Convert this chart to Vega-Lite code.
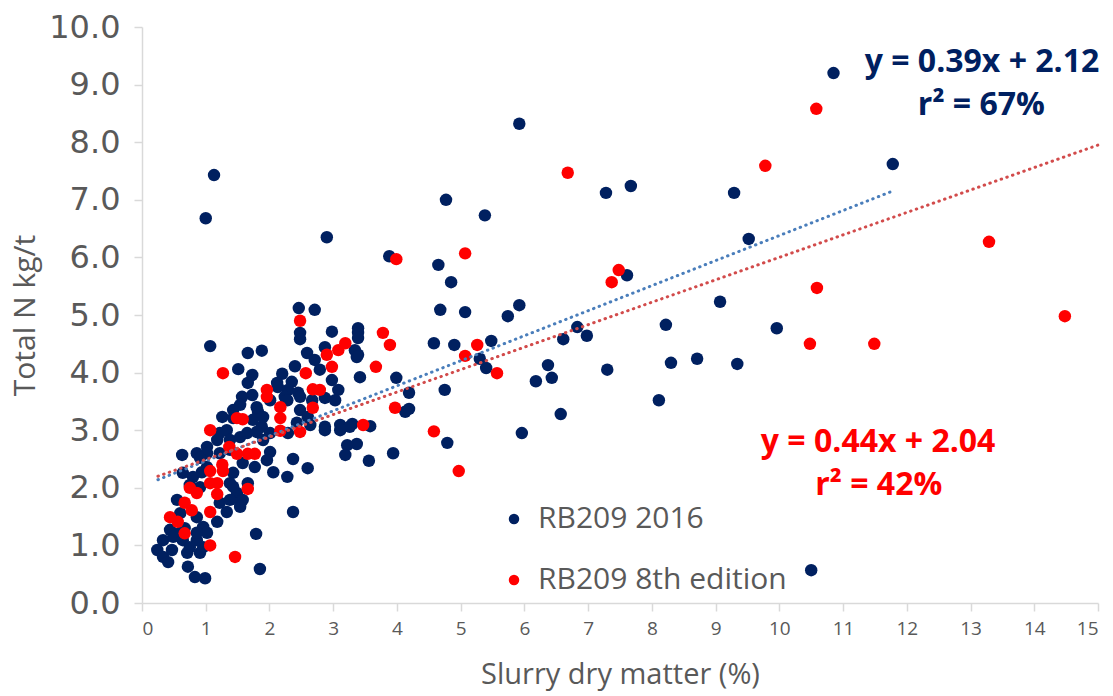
{
  "$schema": "https://vega.github.io/schema/vega-lite/v6.json",
  "width": 956,
  "height": 576,
  "autosize": "none",
  "padding": {"left": 142, "top": 27, "right": 15, "bottom": 93},
  "background": "white",
  "config": {"view": {"stroke": null}},
  "datasets": {
    "points": [
      {"series": "RB209 2016", "dm": 5.92, "n": 8.32},
      {"series": "RB209 2016", "dm": 7.28, "n": 7.12},
      {"series": "RB209 2016", "dm": 7.67, "n": 7.24},
      {"series": "RB209 2016", "dm": 9.29, "n": 7.12},
      {"series": "RB209 2016", "dm": 4.77, "n": 7.0},
      {"series": "RB209 2016", "dm": 5.38, "n": 6.73},
      {"series": "RB209 2016", "dm": 9.52, "n": 6.32},
      {"series": "RB209 2016", "dm": 3.88, "n": 6.02},
      {"series": "RB209 2016", "dm": 4.65, "n": 5.87},
      {"series": "RB209 2016", "dm": 4.85, "n": 5.57},
      {"series": "RB209 2016", "dm": 7.61, "n": 5.69},
      {"series": "RB209 2016", "dm": 4.68, "n": 5.09},
      {"series": "RB209 2016", "dm": 5.07, "n": 5.05},
      {"series": "RB209 2016", "dm": 5.92, "n": 5.17},
      {"series": "RB209 2016", "dm": 5.74, "n": 4.98},
      {"series": "RB209 2016", "dm": 9.07, "n": 5.23},
      {"series": "RB209 2016", "dm": 8.22, "n": 4.83},
      {"series": "RB209 2016", "dm": 6.83, "n": 4.79},
      {"series": "RB209 2016", "dm": 6.98, "n": 4.64},
      {"series": "RB209 2016", "dm": 6.61, "n": 4.58},
      {"series": "RB209 2016", "dm": 4.58, "n": 4.51},
      {"series": "RB209 2016", "dm": 4.9, "n": 4.48},
      {"series": "RB209 2016", "dm": 5.48, "n": 4.55},
      {"series": "RB209 2016", "dm": 5.3, "n": 4.24},
      {"series": "RB209 2016", "dm": 5.4, "n": 4.08},
      {"series": "RB209 2016", "dm": 8.3, "n": 4.17},
      {"series": "RB209 2016", "dm": 8.71, "n": 4.24},
      {"series": "RB209 2016", "dm": 9.34, "n": 4.15},
      {"series": "RB209 2016", "dm": 7.3, "n": 4.05},
      {"series": "RB209 2016", "dm": 6.37, "n": 4.13},
      {"series": "RB209 2016", "dm": 6.43, "n": 3.91},
      {"series": "RB209 2016", "dm": 6.18, "n": 3.85},
      {"series": "RB209 2016", "dm": 8.11, "n": 3.52},
      {"series": "RB209 2016", "dm": 6.57, "n": 3.28},
      {"series": "RB209 2016", "dm": 3.99, "n": 3.91},
      {"series": "RB209 2016", "dm": 4.19, "n": 3.65},
      {"series": "RB209 2016", "dm": 4.19, "n": 3.37},
      {"series": "RB209 2016", "dm": 4.13, "n": 3.32},
      {"series": "RB209 2016", "dm": 4.75, "n": 3.7},
      {"series": "RB209 2016", "dm": 4.79, "n": 2.78},
      {"series": "RB209 2016", "dm": 3.94, "n": 2.6},
      {"series": "RB209 2016", "dm": 5.96, "n": 2.95},
      {"series": "RB209 2016", "dm": 10.85, "n": 9.2},
      {"series": "RB209 2016", "dm": 11.78, "n": 7.62},
      {"series": "RB209 2016", "dm": 9.96, "n": 4.77},
      {"series": "RB209 2016", "dm": 10.5, "n": 0.57},
      {"series": "RB209 2016", "dm": 1.13, "n": 7.43},
      {"series": "RB209 2016", "dm": 1.0, "n": 6.68},
      {"series": "RB209 2016", "dm": 2.9, "n": 6.35},
      {"series": "RB209 2016", "dm": 2.46, "n": 5.12},
      {"series": "RB209 2016", "dm": 2.71, "n": 5.09},
      {"series": "RB209 2016", "dm": 2.48, "n": 4.69},
      {"series": "RB209 2016", "dm": 2.48, "n": 4.58},
      {"series": "RB209 2016", "dm": 2.98, "n": 4.71},
      {"series": "RB209 2016", "dm": 3.39, "n": 4.77},
      {"series": "RB209 2016", "dm": 3.39, "n": 4.69},
      {"series": "RB209 2016", "dm": 3.39, "n": 4.6},
      {"series": "RB209 2016", "dm": 3.39, "n": 4.31},
      {"series": "RB209 2016", "dm": 2.87, "n": 4.44},
      {"series": "RB209 2016", "dm": 2.59, "n": 4.34},
      {"series": "RB209 2016", "dm": 2.71, "n": 4.22},
      {"series": "RB209 2016", "dm": 2.79, "n": 4.05},
      {"series": "RB209 2016", "dm": 2.4, "n": 4.11},
      {"series": "RB209 2016", "dm": 3.34, "n": 4.39},
      {"series": "RB209 2016", "dm": 3.37, "n": 4.27},
      {"series": "RB209 2016", "dm": 3.42, "n": 3.92},
      {"series": "RB209 2016", "dm": 2.98, "n": 3.87},
      {"series": "RB209 2016", "dm": 2.2, "n": 3.98},
      {"series": "RB209 2016", "dm": 2.12, "n": 3.82},
      {"series": "RB209 2016", "dm": 2.35, "n": 3.84},
      {"series": "RB209 2016", "dm": 2.13, "n": 3.75},
      {"series": "RB209 2016", "dm": 2.29, "n": 3.7},
      {"series": "RB209 2016", "dm": 2.45, "n": 3.65},
      {"series": "RB209 2016", "dm": 3.08, "n": 3.7},
      {"series": "RB209 2016", "dm": 3.03, "n": 3.52},
      {"series": "RB209 2016", "dm": 2.87, "n": 3.56},
      {"series": "RB209 2016", "dm": 2.67, "n": 3.52},
      {"series": "RB209 2016", "dm": 2.48, "n": 3.58},
      {"series": "RB209 2016", "dm": 2.24, "n": 3.58},
      {"series": "RB209 2016", "dm": 2.48, "n": 3.35},
      {"series": "RB209 2016", "dm": 2.6, "n": 3.23},
      {"series": "RB209 2016", "dm": 2.43, "n": 3.13},
      {"series": "RB209 2016", "dm": 2.64, "n": 3.09},
      {"series": "RB209 2016", "dm": 2.87, "n": 3.06},
      {"series": "RB209 2016", "dm": 3.11, "n": 3.09},
      {"series": "RB209 2016", "dm": 3.3, "n": 3.11},
      {"series": "RB209 2016", "dm": 2.87, "n": 3.0},
      {"series": "RB209 2016", "dm": 3.11, "n": 3.0},
      {"series": "RB209 2016", "dm": 3.26, "n": 3.06},
      {"series": "RB209 2016", "dm": 3.58, "n": 3.07},
      {"series": "RB209 2016", "dm": 2.29, "n": 2.95},
      {"series": "RB209 2016", "dm": 3.22, "n": 2.74},
      {"series": "RB209 2016", "dm": 3.37, "n": 2.76},
      {"series": "RB209 2016", "dm": 3.19, "n": 2.57},
      {"series": "RB209 2016", "dm": 3.56, "n": 2.47},
      {"series": "RB209 2016", "dm": 2.01, "n": 2.62},
      {"series": "RB209 2016", "dm": 2.37, "n": 2.5},
      {"series": "RB209 2016", "dm": 2.6, "n": 2.34},
      {"series": "RB209 2016", "dm": 1.77, "n": 2.36},
      {"series": "RB209 2016", "dm": 2.06, "n": 2.27},
      {"series": "RB209 2016", "dm": 2.28, "n": 2.19},
      {"series": "RB209 2016", "dm": 2.37, "n": 1.58},
      {"series": "RB209 2016", "dm": 1.79, "n": 1.2},
      {"series": "RB209 2016", "dm": 1.85, "n": 0.59},
      {"series": "RB209 2016", "dm": 1.07, "n": 4.46},
      {"series": "RB209 2016", "dm": 1.66, "n": 4.34},
      {"series": "RB209 2016", "dm": 1.88, "n": 4.38},
      {"series": "RB209 2016", "dm": 1.51, "n": 4.06},
      {"series": "RB209 2016", "dm": 1.73, "n": 3.96},
      {"series": "RB209 2016", "dm": 1.66, "n": 3.82},
      {"series": "RB209 2016", "dm": 1.57, "n": 3.58},
      {"series": "RB209 2016", "dm": 1.73, "n": 3.61},
      {"series": "RB209 2016", "dm": 1.54, "n": 3.44},
      {"series": "RB209 2016", "dm": 1.43, "n": 3.35},
      {"series": "RB209 2016", "dm": 1.26, "n": 3.23},
      {"series": "RB209 2016", "dm": 1.43, "n": 3.21},
      {"series": "RB209 2016", "dm": 1.82, "n": 3.32},
      {"series": "RB209 2016", "dm": 1.33, "n": 3.0},
      {"series": "RB209 2016", "dm": 1.74, "n": 3.18},
      {"series": "RB209 2016", "dm": 1.88, "n": 3.06},
      {"series": "RB209 2016", "dm": 1.8, "n": 3.4},
      {"series": "RB209 2016", "dm": 2.01, "n": 3.52},
      {"series": "RB209 2016", "dm": 1.9, "n": 3.23},
      {"series": "RB209 2016", "dm": 2.28, "n": 3.52},
      {"series": "RB209 2016", "dm": 2.01, "n": 2.95},
      {"series": "RB209 2016", "dm": 0.63, "n": 2.57},
      {"series": "RB209 2016", "dm": 0.86, "n": 2.6},
      {"series": "RB209 2016", "dm": 1.02, "n": 2.71},
      {"series": "RB209 2016", "dm": 1.18, "n": 2.83},
      {"series": "RB209 2016", "dm": 1.22, "n": 2.95},
      {"series": "RB209 2016", "dm": 1.38, "n": 2.83},
      {"series": "RB209 2016", "dm": 1.54, "n": 2.88},
      {"series": "RB209 2016", "dm": 1.65, "n": 2.95},
      {"series": "RB209 2016", "dm": 1.8, "n": 2.97},
      {"series": "RB209 2016", "dm": 1.38, "n": 2.66},
      {"series": "RB209 2016", "dm": 1.9, "n": 2.83},
      {"series": "RB209 2016", "dm": 1.96, "n": 2.48},
      {"series": "RB209 2016", "dm": 1.58, "n": 2.43},
      {"series": "RB209 2016", "dm": 1.43, "n": 2.26},
      {"series": "RB209 2016", "dm": 0.64, "n": 2.26},
      {"series": "RB209 2016", "dm": 0.8, "n": 2.19},
      {"series": "RB209 2016", "dm": 0.94, "n": 2.27},
      {"series": "RB209 2016", "dm": 1.02, "n": 2.36},
      {"series": "RB209 2016", "dm": 1.22, "n": 2.6},
      {"series": "RB209 2016", "dm": 1.02, "n": 2.6},
      {"series": "RB209 2016", "dm": 0.91, "n": 2.52},
      {"series": "RB209 2016", "dm": 1.38, "n": 2.08},
      {"series": "RB209 2016", "dm": 1.49, "n": 1.91},
      {"series": "RB209 2016", "dm": 1.54, "n": 1.75},
      {"series": "RB209 2016", "dm": 1.33, "n": 1.58},
      {"series": "RB209 2016", "dm": 1.18, "n": 1.41},
      {"series": "RB209 2016", "dm": 1.58, "n": 1.79},
      {"series": "RB209 2016", "dm": 1.66, "n": 2.08},
      {"series": "RB209 2016", "dm": 1.43, "n": 2.02},
      {"series": "RB209 2016", "dm": 0.91, "n": 2.01},
      {"series": "RB209 2016", "dm": 0.75, "n": 2.05},
      {"series": "RB209 2016", "dm": 0.55, "n": 1.79},
      {"series": "RB209 2016", "dm": 0.6, "n": 1.56},
      {"series": "RB209 2016", "dm": 0.44, "n": 1.27},
      {"series": "RB209 2016", "dm": 0.86, "n": 1.49},
      {"series": "RB209 2016", "dm": 0.96, "n": 1.32},
      {"series": "RB209 2016", "dm": 1.22, "n": 1.74},
      {"series": "RB209 2016", "dm": 1.38, "n": 1.79},
      {"series": "RB209 2016", "dm": 1.54, "n": 1.67},
      {"series": "RB209 2016", "dm": 0.6, "n": 1.22},
      {"series": "RB209 2016", "dm": 1.02, "n": 1.22},
      {"series": "RB209 2016", "dm": 0.33, "n": 1.09},
      {"series": "RB209 2016", "dm": 0.96, "n": 0.97},
      {"series": "RB209 2016", "dm": 0.24, "n": 0.92},
      {"series": "RB209 2016", "dm": 0.33, "n": 0.8},
      {"series": "RB209 2016", "dm": 0.41, "n": 0.71},
      {"series": "RB209 2016", "dm": 0.47, "n": 0.92},
      {"series": "RB209 2016", "dm": 0.49, "n": 1.15},
      {"series": "RB209 2016", "dm": 0.67, "n": 1.3},
      {"series": "RB209 2016", "dm": 0.64, "n": 1.09},
      {"series": "RB209 2016", "dm": 0.86, "n": 1.09},
      {"series": "RB209 2016", "dm": 0.91, "n": 0.87},
      {"series": "RB209 2016", "dm": 0.86, "n": 1.22},
      {"series": "RB209 2016", "dm": 0.72, "n": 0.63},
      {"series": "RB209 2016", "dm": 0.83, "n": 0.45},
      {"series": "RB209 2016", "dm": 0.99, "n": 0.43},
      {"series": "RB209 2016", "dm": 0.71, "n": 0.87},
      {"series": "RB209 2016", "dm": 0.75, "n": 0.97},
      {"series": "RB209 8th edition", "dm": 0.44, "n": 1.49},
      {"series": "RB209 8th edition", "dm": 0.56, "n": 1.41},
      {"series": "RB209 8th edition", "dm": 0.67, "n": 1.21},
      {"series": "RB209 8th edition", "dm": 0.67, "n": 1.74},
      {"series": "RB209 8th edition", "dm": 0.78, "n": 1.61},
      {"series": "RB209 8th edition", "dm": 0.75, "n": 2.0},
      {"series": "RB209 8th edition", "dm": 0.86, "n": 1.91},
      {"series": "RB209 8th edition", "dm": 1.07, "n": 1.58},
      {"series": "RB209 8th edition", "dm": 1.07, "n": 1.0},
      {"series": "RB209 8th edition", "dm": 1.46, "n": 0.8},
      {"series": "RB209 8th edition", "dm": 1.07, "n": 2.08},
      {"series": "RB209 8th edition", "dm": 1.18, "n": 2.08},
      {"series": "RB209 8th edition", "dm": 1.18, "n": 1.89},
      {"series": "RB209 8th edition", "dm": 1.07, "n": 2.29},
      {"series": "RB209 8th edition", "dm": 1.27, "n": 2.29},
      {"series": "RB209 8th edition", "dm": 1.26, "n": 2.4},
      {"series": "RB209 8th edition", "dm": 1.66, "n": 1.98},
      {"series": "RB209 8th edition", "dm": 1.37, "n": 2.71},
      {"series": "RB209 8th edition", "dm": 1.49, "n": 2.59},
      {"series": "RB209 8th edition", "dm": 1.66, "n": 2.59},
      {"series": "RB209 8th edition", "dm": 1.77, "n": 2.59},
      {"series": "RB209 8th edition", "dm": 1.07, "n": 3.0},
      {"series": "RB209 8th edition", "dm": 1.49, "n": 3.21},
      {"series": "RB209 8th edition", "dm": 1.58, "n": 3.19},
      {"series": "RB209 8th edition", "dm": 1.27, "n": 3.99},
      {"series": "RB209 8th edition", "dm": 1.96, "n": 3.7},
      {"series": "RB209 8th edition", "dm": 1.96, "n": 3.58},
      {"series": "RB209 8th edition", "dm": 2.17, "n": 3.4},
      {"series": "RB209 8th edition", "dm": 2.17, "n": 3.21},
      {"series": "RB209 8th edition", "dm": 2.17, "n": 2.99},
      {"series": "RB209 8th edition", "dm": 2.48, "n": 2.97},
      {"series": "RB209 8th edition", "dm": 2.68, "n": 3.39},
      {"series": "RB209 8th edition", "dm": 2.68, "n": 3.71},
      {"series": "RB209 8th edition", "dm": 2.79, "n": 3.7},
      {"series": "RB209 8th edition", "dm": 2.57, "n": 3.99},
      {"series": "RB209 8th edition", "dm": 2.98, "n": 4.1},
      {"series": "RB209 8th edition", "dm": 2.9, "n": 4.31},
      {"series": "RB209 8th edition", "dm": 3.08, "n": 4.39},
      {"series": "RB209 8th edition", "dm": 3.19, "n": 4.51},
      {"series": "RB209 8th edition", "dm": 2.48, "n": 4.9},
      {"series": "RB209 8th edition", "dm": 3.47, "n": 3.09},
      {"series": "RB209 8th edition", "dm": 3.67, "n": 4.1},
      {"series": "RB209 8th edition", "dm": 3.78, "n": 4.69},
      {"series": "RB209 8th edition", "dm": 3.89, "n": 4.48},
      {"series": "RB209 8th edition", "dm": 3.97, "n": 3.39},
      {"series": "RB209 8th edition", "dm": 3.99, "n": 5.97},
      {"series": "RB209 8th edition", "dm": 4.58, "n": 2.98},
      {"series": "RB209 8th edition", "dm": 4.97, "n": 2.29},
      {"series": "RB209 8th edition", "dm": 5.07, "n": 6.07},
      {"series": "RB209 8th edition", "dm": 5.07, "n": 4.29},
      {"series": "RB209 8th edition", "dm": 5.26, "n": 4.48},
      {"series": "RB209 8th edition", "dm": 5.57, "n": 3.99},
      {"series": "RB209 8th edition", "dm": 6.68, "n": 7.47},
      {"series": "RB209 8th edition", "dm": 7.48, "n": 5.78},
      {"series": "RB209 8th edition", "dm": 7.37, "n": 5.57},
      {"series": "RB209 8th edition", "dm": 9.78, "n": 7.59},
      {"series": "RB209 8th edition", "dm": 10.58, "n": 8.58},
      {"series": "RB209 8th edition", "dm": 13.29, "n": 6.27},
      {"series": "RB209 8th edition", "dm": 10.59, "n": 5.47},
      {"series": "RB209 8th edition", "dm": 14.48, "n": 4.98},
      {"series": "RB209 8th edition", "dm": 10.48, "n": 4.5},
      {"series": "RB209 8th edition", "dm": 11.49, "n": 4.5}
    ],
    "trend": [
      {"series": "RB209 2016", "dm": 0.25, "n": 2.14},
      {"series": "RB209 2016", "dm": 11.75, "n": 7.14},
      {"series": "RB209 8th edition", "dm": 0.25, "n": 2.2},
      {"series": "RB209 8th edition", "dm": 15.0, "n": 7.95}
    ],
    "notes": [
      {"series": "RB209 2016", "dm": 13.18, "n": 9.39, "label": "y = 0.39x + 2.12"},
      {"series": "RB209 2016", "dm": 13.17, "n": 8.65, "label": "r² = 67%"},
      {"series": "RB209 8th edition", "dm": 11.55, "n": 2.8, "label": "y = 0.44x + 2.04"},
      {"series": "RB209 8th edition", "dm": 11.56, "n": 2.05, "label": "r² = 42%"}
    ]
  },
  "layer": [
    {
      "data": {"name": "points"},
      "mark": {"type": "circle", "size": 155, "opacity": 1},
      "encoding": {
        "x": {
          "field": "dm", "type": "quantitative",
          "scale": {"domain": [0, 15], "nice": false, "zero": false},
          "axis": {
            "values": [0,1,2,3,4,5,6,7,8,9,10,11,12,13,14,15],
            "format": "d",
            "grid": false,
            "domainColor": "#d9d9d9", "domainWidth": 1.5,
            "tickColor": "#d9d9d9", "tickSize": 8, "tickWidth": 1.5,
            "labelFont": "Open Sans", "labelFontSize": 19, "labelColor": "#595959",
            "labelPadding": 8,
            "title": "Slurry dry matter (%)",
            "titleFont": "Open Sans", "titleFontSize": 29, "titleFontWeight": "normal",
            "titleColor": "#595959", "titlePadding": 22
          }
        },
        "y": {
          "field": "n", "type": "quantitative",
          "scale": {"domain": [0, 10], "nice": false},
          "axis": {
            "values": [0,1,2,3,4,5,6,7,8,9,10],
            "format": ".1f",
            "grid": false,
            "domainColor": "#d9d9d9", "domainWidth": 1.5,
            "tickColor": "#d9d9d9", "tickSize": 8, "tickWidth": 1.5,
            "labelFont": "DejaVu Sans", "labelFontSize": 32, "labelColor": "#595959",
            "labelPadding": 14,
            "title": "Total N kg/t",
            "titleFont": "Open Sans", "titleFontSize": 30, "titleFontWeight": "normal",
            "titleColor": "#595959", "titlePadding": 8
          }
        },
        "color": {
          "field": "series", "type": "nominal",
          "scale": {"domain": ["RB209 2016", "RB209 8th edition"], "range": ["#002060", "#FF0000"]},
          "legend": {
            "orient": "none", "legendX": 357, "legendY": 477,
            "title": null,
            "labelFont": "Open Sans", "labelFontSize": 30, "labelColor": "#595959",
            "labelLimit": 500,
            "symbolType": "circle", "symbolSize": 110, "symbolStrokeWidth": 0,
            "rowPadding": 31, "labelOffset": 9
          }
        }
      }
    },
    {
      "data": {"name": "trend"},
      "transform": [{"filter": "datum.series == 'RB209 2016'"}],
      "mark": {"type": "line", "color": "#4A7EBB", "strokeWidth": 3, "strokeDash": [0.5, 5.5], "strokeCap": "round"},
      "encoding": {
        "x": {"field": "dm", "type": "quantitative"},
        "y": {"field": "n", "type": "quantitative"}
      }
    },
    {
      "data": {"name": "trend"},
      "transform": [{"filter": "datum.series == 'RB209 8th edition'"}],
      "mark": {"type": "line", "color": "#D24B4B", "strokeWidth": 3, "strokeDash": [0.5, 5.5], "strokeCap": "round"},
      "encoding": {
        "x": {"field": "dm", "type": "quantitative"},
        "y": {"field": "n", "type": "quantitative"}
      }
    },
    {
      "data": {"name": "notes"},
      "transform": [{"filter": "datum.series == 'RB209 2016'"}],
      "mark": {"type": "text", "color": "#002060", "font": "Open Sans", "fontSize": 32, "fontWeight": "bold", "align": "center", "baseline": "middle"},
      "encoding": {
        "x": {"field": "dm", "type": "quantitative"},
        "y": {"field": "n", "type": "quantitative"},
        "text": {"field": "label"}
      }
    },
    {
      "data": {"name": "notes"},
      "transform": [{"filter": "datum.series == 'RB209 8th edition'"}],
      "mark": {"type": "text", "color": "#FF0000", "font": "Open Sans", "fontSize": 32, "fontWeight": "bold", "align": "center", "baseline": "middle"},
      "encoding": {
        "x": {"field": "dm", "type": "quantitative"},
        "y": {"field": "n", "type": "quantitative"},
        "text": {"field": "label"}
      }
    }
  ]
}
